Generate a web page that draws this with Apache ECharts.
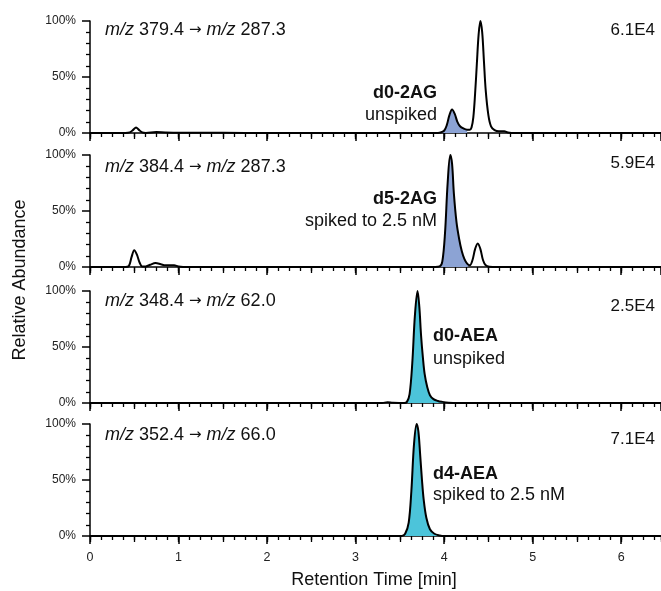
<!DOCTYPE html>
<html>
<head>
<meta charset="utf-8">
<script src="https://cdn.jsdelivr.net/npm/echarts@6/dist/echarts.min.js"></script>
<style>
  html, body { margin: 0; padding: 0; background: #fff; }
  #chart { width: 661px; height: 591px; }
</style>
</head>
<body>
<div id="chart"></div>
<script>
// retention time [min], relative abundance [%]
var trace1 = [[0,0],[0.40,0],[0.45,0.5],[0.49,3],[0.52,5],[0.55,3],[0.59,0.5],[0.63,0],[0.75,0.8],[0.85,0.5],[1.0,0.3],
    [1.2,0.3],[1.5,0.2],[2.0,0],[3.0,0],[3.9,0],[3.96,0.5],[4.0,2],[4.03,7],[4.06,16],[4.09,21],[4.12,17],[4.15,10],
    [4.18,6],[4.22,4],[4.26,3],[4.29,3],[4.31,5],[4.33,14],[4.35,35],[4.37,62],[4.39,88],[4.41,100],[4.43,90],
    [4.45,64],[4.47,38],[4.50,16],[4.53,6],[4.57,2.5],[4.62,1.5],[4.68,1.5],[4.72,0.5],[4.8,0],[6.45,0]];
var trace2 = [[0,0],[0.40,0],[0.44,1],[0.47,9],[0.50,15],[0.53,11],[0.56,4],[0.59,0.5],[0.63,0.5],[0.68,2],[0.74,3.5],
    [0.80,2.5],[0.85,1.5],[0.95,1.5],[1.0,0.5],[1.1,0],[3.9,0],[3.95,0.5],[3.98,5],[4.01,30],[4.04,75],[4.07,100],
    [4.09,92],[4.11,66],[4.14,40],[4.17,25],[4.20,14],[4.23,7],[4.26,3],[4.29,1.5],[4.32,6],[4.35,16],[4.38,21],
    [4.41,16],[4.44,6],[4.47,1.5],[4.51,0.3],[4.6,0],[6.45,0]];
var trace3 = [[0,0],[3.3,0],[3.36,0.7],[3.42,0.3],[3.55,0],[3.58,1],[3.61,8],[3.64,35],[3.67,78],[3.70,100],[3.72,86],
    [3.74,60],[3.76,41],[3.78,26],[3.81,14],[3.84,7],[3.88,3.5],[3.93,1.8],[3.98,1],[4.05,0.3],[4.15,0],[6.45,0]];
var trace4 = [[0,0],[3.52,0],[3.56,2],[3.60,12],[3.63,40],[3.66,82],[3.69,100],[3.71,93],[3.73,72],[3.75,50],
    [3.77,32],[3.80,16],[3.84,6],[3.89,2],[3.95,0.5],[4.0,0],[6.45,0]];

var traces = [trace1, trace2, trace3, trace4];
var peakWindows = [[3.96, 4.26], [3.95, 4.29], [3.55, 4.05], [3.52, 4.0]];
var transitions = [['379.4', '287.3'], ['384.4', '287.3'], ['348.4', '62.0'], ['352.4', '66.0']];
var scales = ['6.1E4', '5.9E4', '2.5E4', '7.1E4'];
var compounds = ['d0-2AG', 'd5-2AG', 'd0-AEA', 'd4-AEA'];
var notes = ['unspiked', 'spiked to 2.5 nM', 'unspiked', 'spiked to 2.5 nM'];
var xTicks = [0, 1, 2, 3, 4, 5, 6];

var FONT = 'Liberation Sans, Arial, sans-serif';
var fills = ['#8ca3d4', '#8ca3d4', '#4cc4da', '#4cc4da'];
var tops = [21, 155, 291, 424];
var gridH = 112;
var xMax = 6.45;

var chart = echarts.init(document.getElementById('chart'));

var grids = [], xAxes = [], yAxes = [], series = [], graphics = [];
tops.forEach(function (top, i) {
    grids.push({ left: 90, right: 0, top: top, height: gridH });
    var last = i === tops.length - 1;
    // major ticks with labels
    xAxes.push({
        type: 'value', gridIndex: i, position: 'bottom', min: 0, max: xMax, interval: 1,
        axisLine: { lineStyle: { color: '#000', width: 1.5 } },
        axisTick: { length: 8, lineStyle: { color: '#000', width: 1.5 } },
        axisLabel: {
            show: last, showMaxLabel: false, margin: 15, fontSize: 12.5, color: '#222', fontFamily: FONT,
            formatter: function (v) { return xTicks.indexOf(v) >= 0 ? String(v) : ''; }
        },
        splitLine: { show: false }
    });
    // half-minute ticks
    xAxes.push({
        type: 'value', gridIndex: i, position: 'bottom', min: 0, max: xMax, interval: 0.5,
        axisLine: { show: false },
        axisTick: { length: 6, lineStyle: { color: '#000', width: 1.3 } },
        axisLabel: { show: false }, splitLine: { show: false }
    });
    // eighth-minute ticks
    xAxes.push({
        type: 'value', gridIndex: i, position: 'bottom', min: 0, max: xMax, interval: 0.125,
        axisLine: { show: false },
        axisTick: { length: 4, lineStyle: { color: '#000', width: 1.3 } },
        axisLabel: { show: false }, splitLine: { show: false }
    });
    yAxes.push({
        type: 'value', gridIndex: i, min: 0, max: 100, interval: 50,
        axisLine: { show: true, lineStyle: { color: '#000', width: 1.5 } },
        axisTick: { show: true, length: 8, lineStyle: { color: '#000', width: 1.5 } },
        minorTick: { show: true, splitNumber: 5, length: 4, lineStyle: { color: '#000', width: 1.3 } },
        axisLabel: { margin: 14, fontSize: 12, color: '#222', fontFamily: FONT, formatter: '{value}%' },
        splitLine: { show: false }
    });

    var win = peakWindows[i];
    series.push({
        type: 'line', xAxisIndex: i * 3, yAxisIndex: i, smooth: 0.35, showSymbol: false, silent: true,
        data: traces[i].filter(function (p) { return p[0] >= win[0] && p[0] <= win[1]; }),
        lineStyle: { width: 0 }, areaStyle: { color: fills[i], opacity: 1 }, z: 2
    });
    series.push({
        type: 'line', xAxisIndex: i * 3, yAxisIndex: i, smooth: 0.35, showSymbol: false, silent: true,
        data: traces[i], lineStyle: { color: '#000', width: 2 }, z: 3
    });
});

// panel texts
var labelY = [30, 167, 301, 435];
var scaleY = [30, 163, 306, 439];
var nameY = [93, 199, 336, 474];
var noteY = [115, 221, 359, 495];
tops.forEach(function (top, i) {
    graphics.push({
        type: 'text', x: 105, y: labelY[i],
        style: {
            text: '{i|m/z} ' + transitions[i][0] + ' {a|\u2192} {i|m/z} ' + transitions[i][1],
            rich: {
                i: { fontStyle: 'italic', fontSize: 18, fontFamily: FONT, fill: '#111' },
                a: { fontSize: 15, fontFamily: 'DejaVu Sans', fill: '#111' }
            },
            fontSize: 18, fontFamily: FONT, fill: '#111', verticalAlign: 'middle'
        }
    });
    graphics.push({
        type: 'text', x: 655, y: scaleY[i],
        style: { text: scales[i], fontSize: 17, fontFamily: FONT, fill: '#111', align: 'right', verticalAlign: 'middle' }
    });
    var right = i < 2;
    graphics.push({
        type: 'text', x: right ? 437 : 433, y: nameY[i],
        style: { text: compounds[i], fontSize: 18, fontWeight: 'bold', fontFamily: FONT, fill: '#111',
            align: right ? 'right' : 'left', verticalAlign: 'middle' }
    });
    graphics.push({
        type: 'text', x: right ? 437 : 433, y: noteY[i],
        style: { text: notes[i], fontSize: 18, fontFamily: FONT, fill: '#111',
            align: right ? 'right' : 'left', verticalAlign: 'middle' }
    });
});
graphics.push({
    type: 'text', x: 374, y: 580,
    style: { text: 'Retention Time [min]', fontSize: 18, fontFamily: FONT, fill: '#111', align: 'center', verticalAlign: 'middle' }
});
graphics.push({
    type: 'text', x: 20, y: 280, rotation: Math.PI / 2,
    style: { text: 'Relative Abundance', fontSize: 18, fontFamily: FONT, fill: '#111', align: 'center', verticalAlign: 'middle' }
});

chart.setOption({
    animation: false,
    grid: grids,
    xAxis: xAxes,
    yAxis: yAxes,
    series: series,
    graphic: graphics
});
</script>
</body>
</html>
